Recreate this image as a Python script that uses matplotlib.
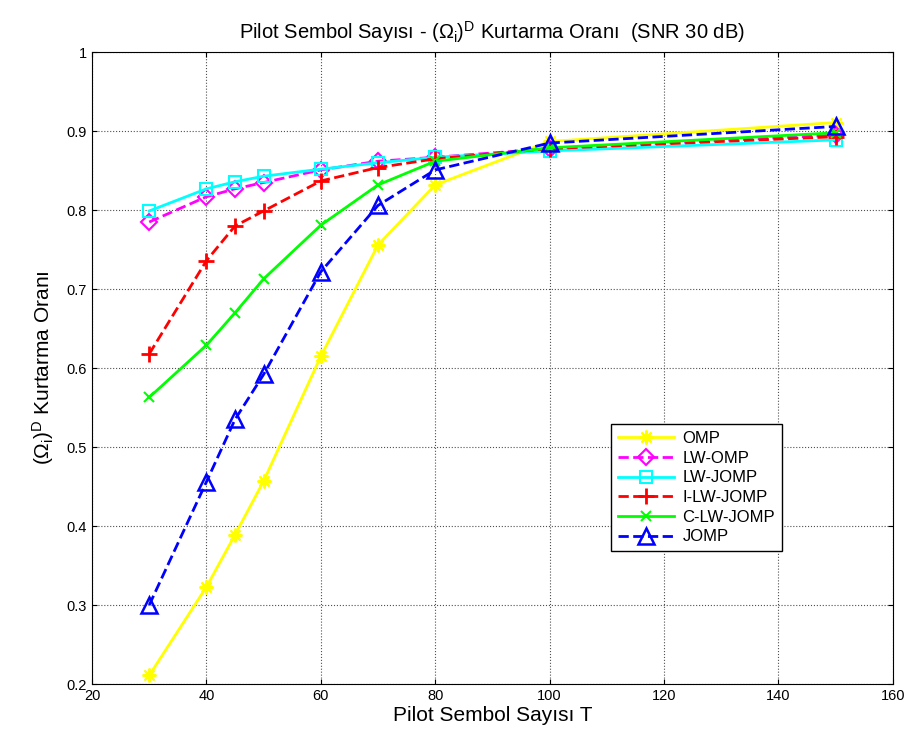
import matplotlib
matplotlib.use('Agg')
import matplotlib.pyplot as plt

plt.rcParams['font.family'] = ['Liberation Sans', 'DejaVu Sans']
plt.rcParams['mathtext.default'] = 'regular'

T = [30, 40, 45, 50, 60, 70, 80, 100, 150]

omp = [0.211, 0.323, 0.389, 0.457, 0.615, 0.756, 0.832, 0.887, 0.911]
lw_omp = [0.785, 0.817, 0.827, 0.835, 0.851, 0.862, 0.867, 0.878, 0.895]
lw_jomp = [0.799, 0.827, 0.836, 0.843, 0.852, 0.860, 0.867, 0.875, 0.889]
i_lw_jomp = [0.618, 0.736, 0.780, 0.799, 0.837, 0.854, 0.865, 0.878, 0.893]
c_lw_jomp = [0.563, 0.629, 0.670, 0.713, 0.781, 0.832, 0.862, 0.879, 0.898]
jomp = [0.300, 0.456, 0.535, 0.592, 0.722, 0.806, 0.851, 0.885, 0.906]

fig = plt.figure(figsize=(9.11, 7.46), dpi=100)
ax = fig.add_axes([0.101, 0.083, 0.879, 0.847])

ax.plot(T, omp, '-', color='#ffff00', marker=(8, 2, 0), ms=10, mew=1.5, lw=2, label='OMP')
ax.plot(T, lw_omp, '--', color='#ff00ff', marker='D', ms=8, mfc='none', mew=1.5, lw=2, label='LW-OMP')
ax.plot(T, lw_jomp, '-', color='#00ffff', marker='s', ms=9, mfc='none', mew=1.5, lw=2, label='LW-JOMP')
ax.plot(T, i_lw_jomp, '--', color='#ff0000', marker='+', ms=12, mew=2, lw=2, label='I-LW-JOMP')
ax.plot(T, c_lw_jomp, '-', color='#00ff00', marker='x', ms=7, mew=1.5, lw=2, label='C-LW-JOMP')
ax.plot(T, jomp, '--', color='#0000ff', marker='^', ms=11, mfc='none', mew=1.8, lw=2, label='JOMP')

ax.set_xlim(20, 160)
ax.set_ylim(0.2, 1)
ax.set_xticks(range(20, 161, 20))
ax.set_yticks([0.2, 0.3, 0.4, 0.5, 0.6, 0.7, 0.8, 0.9, 1])
ax.set_yticklabels(['0.2', '0.3', '0.4', '0.5', '0.6', '0.7', '0.8', '0.9', '1'])
ax.grid(True, linestyle=':', color='#505050', lw=0.8)
ax.tick_params(direction='in', labelsize=10.5, top=True, right=True)

ax.set_title(r'Pilot Sembol Sayısı - $(\Omega_i)^D$ Kurtarma Oranı  (SNR 30 dB)', fontsize=14.5, pad=10)
ax.set_xlabel('Pilot Sembol Sayısı T', fontsize=15, labelpad=2)
ax.set_ylabel(r'$(\Omega_i)^D$ Kurtarma Oranı', fontsize=15, labelpad=8)

leg = ax.legend(loc='upper left', bbox_to_anchor=(0.648, 0.411), fontsize=12,
                fancybox=False, framealpha=1, edgecolor='black', handlelength=3.4,
                borderpad=0.4, labelspacing=0.28, borderaxespad=0, handletextpad=0.5)
leg.get_frame().set_linewidth(1)

fig.savefig('out.png', dpi=100)
